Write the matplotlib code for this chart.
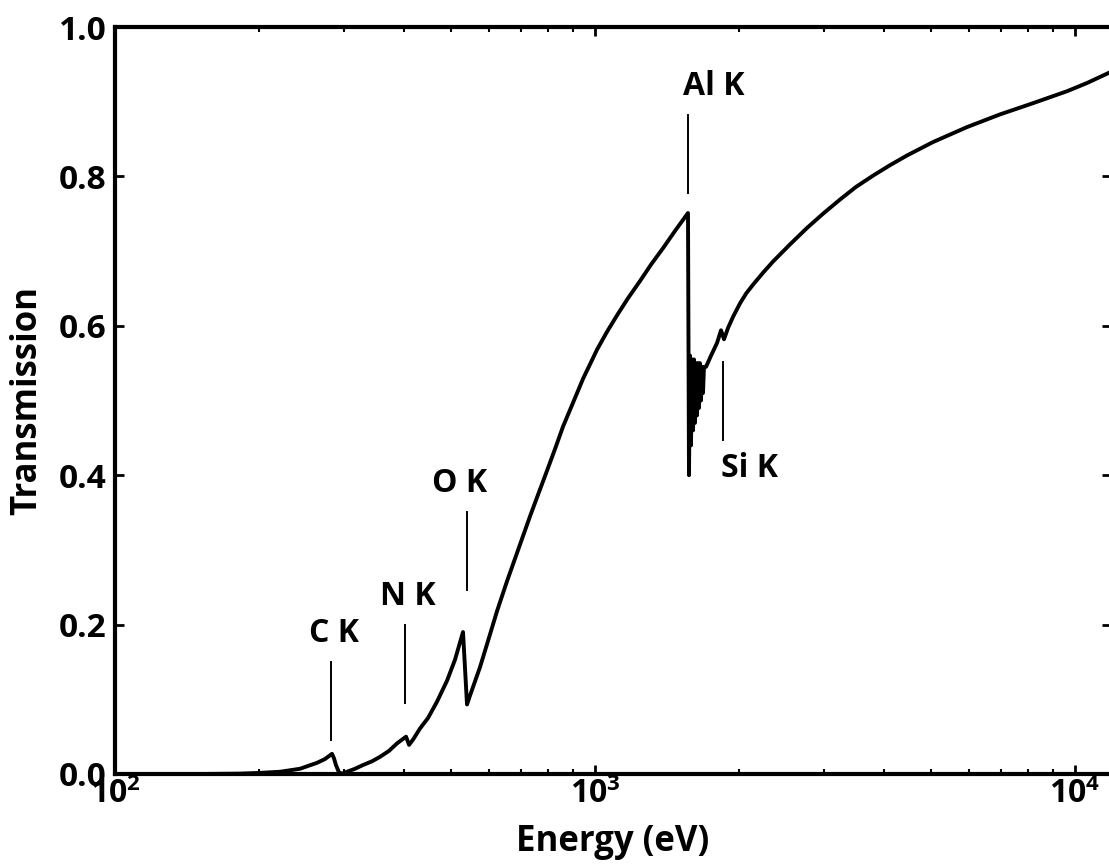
import matplotlib
matplotlib.use('Agg')
import matplotlib.pyplot as plt

plt.rcParams['font.family'] = ['Open Sans', 'DejaVu Sans']
plt.rcParams['font.weight'] = 'bold'
plt.rcParams['mathtext.default'] = 'regular'

# transmission curve (eV, fraction)
energy = [100, 150.4, 182.1, 200.5, 220.7, 242.9, 263.6, 273.8, 283.2,
          285.9, 288.6, 292.9, 297.2, 304.4, 316.2, 328.6, 343.1, 356.6, 372.3,
          386.9, 404.0, 409.8, 417.7, 432.0, 448.9, 468.8, 491.8, 510.9, 530.9,
          541.2, 549.0, 576.0, 598.5, 625.0, 655.6, 688.0, 732.2, 761.0, 794.3,
          825.4, 857.7, 899.9, 944.1, 1009.6, 1059.3, 1111.4, 1171.7, 1241.2, 1308.5,
          1386.1, 1467.8, 1562.2,
          # Al K edge with the fine structure just above it
          1569.7, 1577.3, 1584.9, 1592.5, 1600.2, 1607.9, 1615.6, 1623.4, 1631.2,
          1639.0, 1646.9, 1654.8, 1662.8, 1670.8, 1678.8, 1686.8, 1703.2,
          1744.6, 1795.5, 1830.4, 1856.9, 1892.8, 1938.8, 2004.9, 2063.4, 2133.8,
          2238.7, 2348.7, 2548.7, 2765.2, 2985.4, 3238.9, 3498.5, 3794.9, 4117.0,
          4466.8, 5061.8, 5956.6, 6978.3, 8175.1, 9623.2, 10592.5, 11885.0]
transmission = [0.0, 0.0, 0.0005, 0.0015, 0.003, 0.007, 0.015, 0.020, 0.027,
                0.021, 0.012, 0.002, 0.0005, 0.003, 0.007, 0.012, 0.017, 0.023, 0.031,
                0.041, 0.050, 0.039, 0.046, 0.061, 0.075, 0.097, 0.125, 0.153, 0.190,
                0.093, 0.105, 0.143, 0.178, 0.218, 0.258, 0.296, 0.345, 0.374, 0.406,
                0.435, 0.465, 0.497, 0.529, 0.568, 0.592, 0.614, 0.637, 0.660, 0.682,
                0.704, 0.727, 0.751,
                0.400, 0.560, 0.440, 0.555, 0.460, 0.555, 0.470, 0.550, 0.480,
                0.550, 0.490, 0.550, 0.500, 0.545, 0.510, 0.545, 0.545,
                0.560, 0.577, 0.594, 0.582, 0.597, 0.612, 0.630, 0.643, 0.655,
                0.671, 0.686, 0.709, 0.731, 0.750, 0.769, 0.786, 0.801, 0.815,
                0.828, 0.846, 0.866, 0.883, 0.898, 0.914, 0.925, 0.940]

# absorption edge markers
edge_names = ['C K', 'N K', 'O K', 'Al K', 'Si K']
edge_energy = [281.8, 402, 541, 1562, 1848]
edge_low = [0.046, 0.095, 0.246, 0.778, 0.447]
edge_high = [0.150, 0.200, 0.351, 0.882, 0.552]
label_energy = [285.8, 408.3, 523.4, 1770, 2103]
label_level = [0.177, 0.226, 0.3775, 0.909, 0.3976]

xtick_pos = [1e2, 1e3, 1e4]
xtick_labels = [r'$10^{2}$', r'$10^{3}$', r'$10^{4}$']
ytick_pos = [0.0, 0.2, 0.4, 0.6, 0.8, 1.0]
ytick_labels = ['0.0', '0.2', '0.4', '0.6', '0.8', '1.0']

fig = plt.figure(figsize=(11.09, 8.67), dpi=100)
ax = fig.add_axes([115 / 1109, 93 / 867, 996 / 1109, 747 / 867])

ax.plot(energy, transmission, color='black', lw=2.8)

for i, name in enumerate(edge_names):
    ax.plot([edge_energy[i], edge_energy[i]], [edge_low[i], edge_high[i]],
            color='black', lw=1.4)
    ax.text(label_energy[i], label_level[i], name, ha='center', va='baseline',
            fontsize=23, fontweight='bold')

ax.set_xscale('log')
ax.set_xlim(100, 11885)
ax.set_ylim(0, 1)
ax.set_xticks(xtick_pos)
ax.set_xticklabels(xtick_labels)
ax.set_yticks(ytick_pos)
ax.set_yticklabels(ytick_labels)

ax.tick_params(which='both', direction='in', top=True, right=True)
ax.tick_params(which='major', length=6.5, width=2)
ax.tick_params(which='minor', length=3.5, width=1.5)
ax.tick_params(axis='x', labelsize=23, pad=3)
ax.tick_params(axis='y', labelsize=24, pad=6)

for s in ax.spines.values():
    s.set_linewidth(3)

ax.set_xlabel('Energy (eV)', fontsize=25, fontweight='bold', labelpad=9)
ax.set_ylabel('Transmission', fontsize=25, fontweight='bold', labelpad=10)

fig.savefig('out.png', dpi=100)
